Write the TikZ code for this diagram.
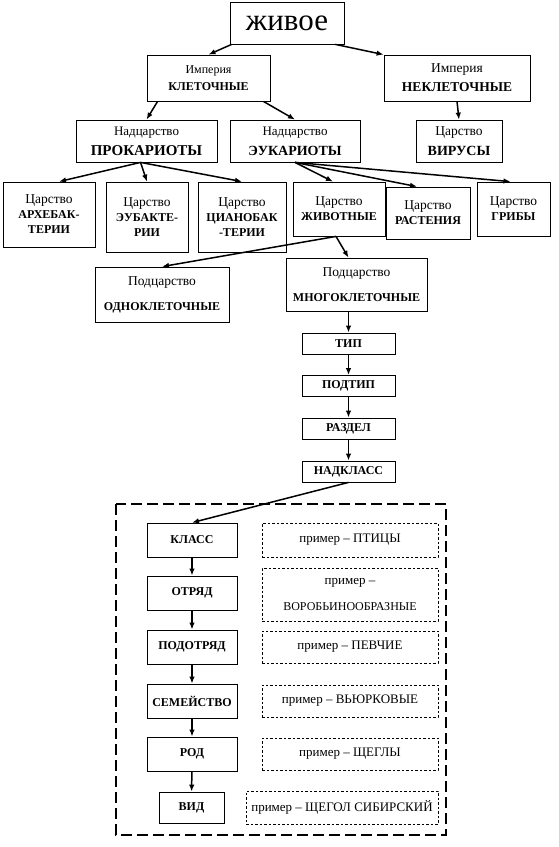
\documentclass[tikz,border=0pt]{standalone}
\usepackage{fontspec}
\setmainfont{Liberation Serif}
\usetikzlibrary{arrows.meta}
\newcommand{\fsz}[2]{\fontsize{#1}{#2}\selectfont}
\newcommand{\nm}[2][12]{{\bfseries\fontsize{#1}{15}\selectfont #2}}
\tikzset{
  box/.style={draw, line width=0.8pt, align=center, inner sep=1pt, font=\fsz{13.5}{15}},
  rank/.style={box, minimum width=93, minimum height=21},
  taxon/.style={box, minimum width=90, minimum height=34},
  exbox/.style={draw, line width=0.9pt, dash pattern=on 2.5pt off 2pt, align=center,
    inner sep=1pt, minimum width=176, minimum height=32, font=\fsz{13}{15}},
  arr/.style={-{Latex[length=7pt,width=5.5pt]}, line width=1.5pt},
}
\begin{document}
\begin{tikzpicture}[x=1pt,y=-1pt]
\useasboundingbox (0,0) rectangle (558,847);

% верхние уровни
\node[box,minimum width=114,minimum height=42,font=\fsz{31}{32}] (zhivoe) at (287,23) {живое};
\node[box,minimum width=123,minimum height=46,font=\fsz{12}{17}] (klet) at (208.5,78) {Империя\\\nm{КЛЕТОЧНЫЕ}};
\node[box,minimum width=146,minimum height=46,font=\fsz{13.5}{19}] (neklet) at (457,78) {Империя\\\nm[13.5]{НЕКЛЕТОЧНЫЕ}};
\node[box,minimum width=141,minimum height=42,font=\fsz{13}{20}] (prok) at (146.5,141) {Надцарство\\\nm[15]{ПРОКАРИОТЫ}};
\node[box,minimum width=130,minimum height=42,font=\fsz{13}{20}] (euk) at (295,141) {Надцарство\\\nm[14]{ЭУКАРИОТЫ}};
\node[box,minimum width=86,minimum height=42,font=\fsz{13.5}{20}] (vir) at (459,141) {Царство\\\nm[14]{ВИРУСЫ}};

% царства
\node[box,minimum width=92,minimum height=65] (arch) at (49,214.5) {Царство\\\nm{АРХЕБАК-}\\\nm{ТЕРИИ}};
\node[box,minimum width=82,minimum height=70] (eubact) at (147,217) {Царство\\\nm{ЭУБАКТЕ-}\\\nm{РИИ}};
\node[box,minimum width=88,minimum height=70] (cian) at (242,217) {Царство\\\nm{ЦИАНОБАК}\\\nm{-ТЕРИИ}};
\node[box,minimum width=92,minimum height=54] (zhiv) at (339,209) {Царство\\\nm{ЖИВОТНЫЕ}};
\node[box,minimum width=84,minimum height=52] (rast) at (428,213) {Царство\\\nm{РАСТЕНИЯ}};
\node[box,minimum width=73,minimum height=54] (grib) at (513.5,209) {Царство\\\nm{ГРИБЫ}};

% подцарства
\node[box,minimum width=134,minimum height=55] (odno) at (162,294.5) {Подцарство\\[10pt]\nm{ОДНОКЛЕТОЧНЫЕ}};
\node[box,minimum width=141,minimum height=53] (mnogo) at (356.5,284.5) {Подцарство\\[10pt]\nm{МНОГОКЛЕТОЧНЫЕ}};

\node[rank] (tip) at (348.5,343.5) {\nm{ТИП}};
\node[rank] (podtip) at (348.5,386) {\nm{ПОДТИП}};
\node[rank] (razdel) at (348.5,428.5) {\nm{РАЗДЕЛ}};
\node[rank] (nadkl) at (348.5,471.5) {\nm{НАДКЛАСС}};

% рамка с примером
\draw[line width=1.8pt, dash pattern=on 11pt off 5pt] (116,504) rectangle (446,835);

\node[taxon] (klass) at (192,540) {\nm{КЛАСС}};
\node[taxon] (otryad) at (192,593) {\nm{ОТРЯД}};
\node[taxon] (podotr) at (192,647) {\nm{ПОДОТРЯД}};
\node[taxon] (sem) at (192,701) {\nm{СЕМЕЙСТВО}};
\node[taxon] (rod) at (192,754) {\nm{РОД}};
\node[taxon,minimum width=65,minimum height=31] (vid) at (191.5,807.5) {\nm{ВИД}};

\node[exbox,minimum height=34] (ex1) at (350,540) {пример – ПТИЦЫ};
\node[exbox,minimum height=53] (ex2) at (350,594.5) {пример –\\[11pt]{\fsz{12}{15}ВОРОБЬИНООБРАЗНЫЕ}};
\node[exbox] (ex3) at (350,647) {пример – ПЕВЧИЕ};
\node[exbox] (ex4) at (350,701) {пример – ВЬЮРКОВЫЕ};
\node[exbox] (ex5) at (350,754) {пример – ЩЕГЛЫ};
\node[exbox,minimum width=192,minimum height=33] (ex6) at (342,807.5) {пример – ЩЕГОЛ СИБИРСКИЙ};

% стрелки
\draw[arr] ([xshift=2pt]zhivoe.south west) -- (klet.north);
\draw[arr] ([xshift=-9pt]zhivoe.south east) -- (neklet.north west);
\draw[arr] ([xshift=11pt]klet.south west) -- (prok.north);
\draw[arr] ([xshift=-7pt]klet.south east) -- (euk.north);
\draw[arr] (neklet.south) -- (vir.north);
\draw[arr] ([xshift=-6pt]prok.south) -- ([xshift=10pt]arch.north);
\draw[arr] ([xshift=-6pt]prok.south) -- (eubact.north);
\draw[arr] ([xshift=-6pt]prok.south) -- (cian.north);
\draw[arr] (euk.south) -- ([xshift=-6pt]zhiv.north);
\draw[arr] (euk.south) -- ([xshift=-11pt]rast.north);
\draw[arr] (euk.south) -- ([xshift=-3pt]grib.north);
\draw[arr] ([xshift=-3pt]zhiv.south) -- (odno.north);
\draw[arr] ([xshift=-3pt]zhiv.south) -- (tip.north |- mnogo.north);
\draw[arr] (tip.north |- mnogo.south) -- (tip.north);
\draw[arr] (tip) -- (podtip);
\draw[arr] (podtip) -- (razdel);
\draw[arr] (razdel) -- (nadkl);
\draw[arr] (nadkl.south) -- (klass.north);
\draw[arr] (klass) -- (otryad);
\draw[arr] (otryad) -- (podotr);
\draw[arr] (podotr) -- (sem);
\draw[arr] (sem) -- (rod);
\draw[arr] (rod) -- (vid);
\end{tikzpicture}
\end{document}
